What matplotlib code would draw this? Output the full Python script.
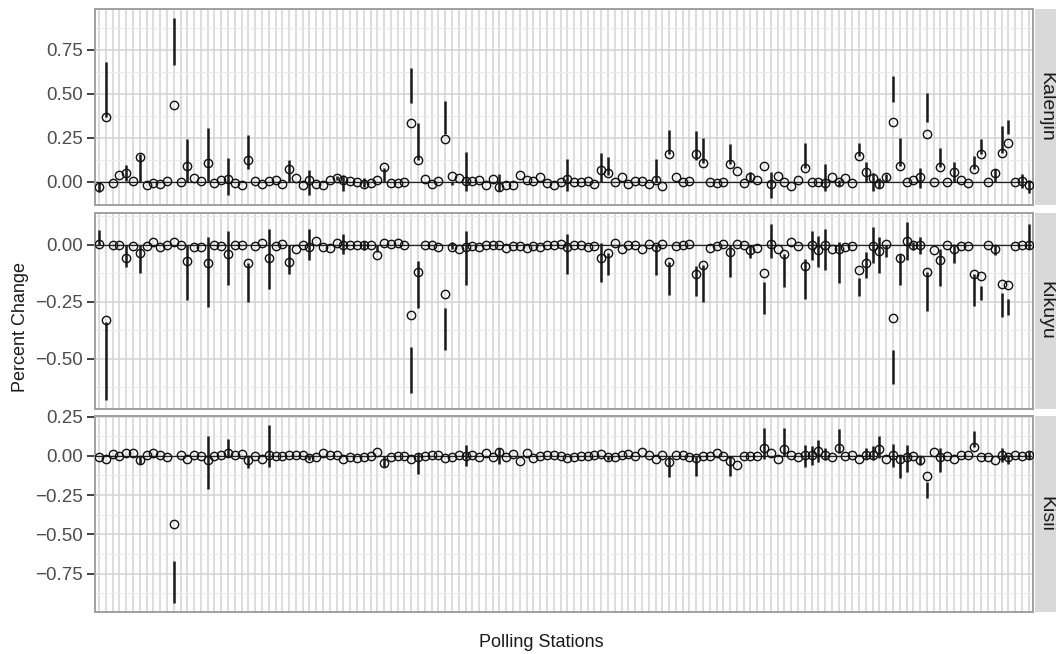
import numpy as np
import matplotlib.pyplot as plt
from matplotlib.ticker import FixedLocator, MultipleLocator, FuncFormatter

plt.rcParams['font.family'] = ['Liberation Sans', 'DejaVu Sans']

# 138 polling stations on a discrete x axis
stations = [f"PS{i + 1:03d}" for i in range(138)]

# point estimates, one per station
kal_pt = [-0.03, 0.37, -0.007, 0.04, 0.052, 0.007, 0.142, -0.016, -0.007, -0.014,
          0.007, 0.437, 0.0, 0.089, 0.022, 0.007, 0.108, -0.009, 0.008, 0.018,
          -0.007, -0.016, 0.125, 0.003, -0.012, 0.003, 0.008, -0.012, 0.075, 0.022,
          -0.02, 0.012, -0.012, -0.016, 0.01, 0.022, 0.008, 0.007, -0.003, -0.012,
          -0.009, 0.012, 0.081, -0.007, -0.007, 0.0, 0.336, 0.121, 0.016, -0.012,
          0.003, 0.245, 0.031, 0.022, 0.003, 0.007, 0.012, -0.02, 0.018, -0.031,
          -0.016, -0.016, 0.041, 0.012, 0.003, 0.025, -0.007, -0.02, 0.0, 0.016,
          0.0, -0.003, 0.003, -0.012, 0.068, 0.05, -0.003, 0.025, -0.012, 0.007,
          0.007, -0.012, 0.012, -0.026, 0.159, 0.025, 0.0, 0.007, 0.155, 0.104,
          0.0, -0.007, 0.0, 0.101, 0.06, -0.007, 0.027, 0.012, 0.092, -0.012,
          0.031, -0.003, -0.022, 0.012, 0.079, -0.003, -0.003, -0.007, 0.029, -0.003,
          0.022, -0.009, 0.146, 0.054, 0.022, -0.012, 0.027, 0.342, 0.089, -0.003,
          0.012, 0.025, 0.27, -0.003, 0.083, -0.003, 0.054, 0.012, -0.009, 0.07,
          0.159, -0.003, 0.048, 0.162, 0.218, -0.003, 0.007, -0.02]
kik_pt = [0.004, -0.332, -0.003, -0.003, -0.061, -0.006, -0.037, -0.006, 0.012, -0.01,
          0.0, 0.012, -0.003, -0.072, -0.01, -0.01, -0.083, -0.003, -0.006, -0.04,
          -0.003, -0.003, -0.08, -0.006, 0.007, -0.061, -0.006, 0.004, -0.076, -0.018,
          0.0, -0.01, 0.015, -0.01, -0.015, 0.007, 0.0, 0.0, 0.0, 0.0,
          -0.003, -0.047, 0.007, 0.004, 0.007, 0.0, -0.31, -0.12, -0.003, 0.0,
          -0.01, -0.215, -0.01, -0.018, -0.01, -0.007, -0.01, -0.003, 0.0, 0.0,
          -0.013, -0.007, -0.006, -0.013, -0.006, -0.01, -0.003, 0.0, 0.003, -0.012,
          -0.003, -0.003, -0.01, -0.006, -0.061, -0.037, 0.007, -0.018, 0.0, -0.003,
          -0.018, 0.003, -0.01, 0.003, -0.076, -0.006, 0.0, 0.003, -0.13, -0.088,
          -0.015, -0.006, 0.002, -0.032, 0.004, 0.0, -0.025, -0.015, -0.124, 0.004,
          -0.018, -0.04, 0.009, -0.006, -0.094, -0.003, -0.022, 0.0, -0.018, -0.02,
          -0.01, -0.006, -0.113, -0.079, -0.007, -0.028, 0.004, -0.322, -0.061, 0.015,
          0.0, -0.003, -0.12, -0.022, -0.069, 0.0, -0.018, -0.006, -0.006, -0.129,
          -0.137, -0.003, -0.018, -0.171, -0.178, -0.006, 0.0, 0.0]
kis_pt = [-0.006, -0.017, 0.011, 0.0, 0.019, 0.019, -0.028, 0.004, 0.015, 0.008,
          -0.006, -0.436, 0.004, -0.021, 0.004, 0.0, -0.028, 0.0, 0.004, 0.019,
          0.004, 0.011, -0.028, 0.0, -0.017, 0.004, 0.0, 0.0, 0.004, 0.004,
          0.004, -0.013, -0.006, 0.019, 0.004, 0.004, -0.017, -0.006, -0.011, -0.006,
          0.0, 0.025, -0.044, -0.006, 0.0, 0.0, -0.017, -0.006, 0.0, 0.004,
          0.004, -0.011, -0.006, 0.004, 0.0, 0.004, -0.006, 0.015, -0.006, 0.025,
          -0.006, 0.011, -0.034, 0.015, -0.011, 0.0, 0.004, 0.008, 0.0, -0.011,
          -0.006, 0.0, 0.0, 0.004, 0.011, -0.006, -0.006, 0.004, 0.011, 0.0,
          0.025, 0.008, -0.017, 0.004, -0.042, 0.004, 0.004, -0.006, -0.011, 0.0,
          0.0, 0.019, 0.002, -0.036, -0.059, 0.0, 0.0, 0.0, 0.051, 0.021,
          -0.017, 0.042, 0.008, -0.006, 0.008, 0.004, 0.032, 0.008, -0.006, 0.047,
          0.0, 0.004, -0.017, 0.008, 0.008, 0.042, -0.017, 0.004, -0.021, -0.006,
          0.0, -0.028, -0.127, 0.025, -0.006, 0.0, -0.021, 0.004, 0.008, 0.057,
          -0.006, -0.006, -0.028, 0.008, -0.006, 0.004, 0.0, 0.008]

# intervals: station index, lower and upper end
kal_ci_idx = [0, 1, 4, 6, 11, 13, 16, 19, 22, 28, 31, 35, 36, 39, 42, 46, 47, 51, 52, 54,
              59, 69, 74, 75, 82, 84, 88, 89, 93, 96, 99, 104, 107, 109, 112, 113, 114,
              115, 116, 117, 118, 121, 122, 124, 126, 129, 130, 132, 133, 134, 136, 137]
kal_ci_lo = [-0.06, 0.37, 0.003, 0.0, 0.664, 0.0, 0.0, -0.073, 0.075, 0.0, -0.073, 0.01,
             -0.05, -0.028, 0.0, 0.445, 0.121, 0.274, -0.017, -0.054, -0.054, -0.054, 0.0,
             0.04, 0.0, 0.159, 0.121, 0.104, 0.101, 0.002, -0.092, 0.079, -0.054, -0.026,
             0.146, 0.0, -0.05, -0.036, 0.0, 0.451, 0.089, -0.036, 0.342, 0.083, 0.0,
             0.07, 0.159, 0.0, 0.162, 0.27, -0.036, -0.065]
kal_ci_hi = [0.0, 0.68, 0.094, 0.155, 0.929, 0.241, 0.305, 0.136, 0.266, 0.123, 0.066, 0.035,
             0.037, 0.02, 0.08, 0.645, 0.336, 0.46, 0.0, 0.171, 0.045, 0.127, 0.161,
             0.14, 0.127, 0.293, 0.289, 0.247, 0.212, 0.056, 0.056, 0.222, 0.101, 0.012,
             0.222, 0.113, 0.05, 0.022, 0.044, 0.6, 0.247, 0.079, 0.504, 0.193, 0.113,
             0.149, 0.241, 0.07, 0.314, 0.35, 0.044, 0.012]

kik_ci_idx = [0, 1, 4, 6, 13, 16, 19, 22, 25, 28, 31, 36, 39, 41, 46, 47, 51, 52, 54, 69,
              74, 75, 82, 84, 88, 89, 93, 96, 98, 99, 101, 104, 105, 106, 107, 109, 112,
              113, 114, 115, 116, 117, 118, 119, 120, 121, 122, 124, 126, 129, 130, 132,
              133, 134, 137]
kik_ci_lo = [-0.003, -0.68, -0.098, -0.124, -0.244, -0.273, -0.175, -0.251, -0.193, -0.127,
             -0.069, -0.04, -0.025, -0.032, -0.651, -0.28, -0.463, -0.018, -0.175, -0.13,
             -0.164, -0.135, -0.132, -0.22, -0.225, -0.251, -0.142, -0.061, -0.303, -0.058,
             -0.186, -0.237, -0.069, -0.098, -0.11, -0.168, -0.225, -0.146, -0.083, -0.124,
             -0.054, -0.61, -0.175, -0.069, -0.025, -0.04, -0.292, -0.183, -0.079, -0.269,
             -0.241, -0.044, -0.317, -0.31, -0.018]
kik_ci_hi = [0.063, -0.34, 0.0, 0.0, 0.0, 0.034, 0.058, -0.08, 0.067, 0.0,
             0.07, 0.048, 0.015, 0.0, -0.449, -0.07, -0.278, 0.012, 0.06, 0.048,
             0.007, -0.037, 0.0, -0.076, -0.095, -0.088, 0.0, 0.0, -0.164, 0.089,
             -0.04, -0.064, 0.06, 0.038, 0.067, 0.009, -0.146, -0.032, 0.077, 0.031,
             0.0, -0.463, -0.04, 0.1, 0.012, 0.031, -0.12, -0.018, 0.0, -0.129,
             -0.181, 0.0, -0.211, -0.24, 0.089]

kis_ci_idx = [6, 11, 16, 19, 22, 25, 31, 42, 47, 54, 59, 75, 84, 88, 93, 98, 101, 104, 105,
              106, 107, 109, 113, 114, 115, 117, 118, 119, 121, 122, 124, 129, 133, 134, 137]
kis_ci_lo = [-0.055, -0.939, -0.212, -0.006, -0.08, -0.07, -0.028, -0.07, -0.117, -0.064,
             -0.049, -0.028, -0.133, -0.127, -0.127, -0.017, 0.0, -0.07, -0.059, -0.038,
             -0.028, 0.015, -0.017, -0.028, -0.013, -0.07, -0.144, -0.102, -0.059, -0.267,
             -0.102, 0.057, -0.038, -0.055, -0.017]
kis_ci_hi = [0.0, -0.667, 0.127, 0.11, 0.0, 0.195, 0.004, 0.0, 0.015, 0.068,
             0.051, 0.0, 0.0, 0.0, 0.0, 0.18, 0.18, 0.072, 0.064, 0.1,
             0.047, 0.17, 0.051, 0.064, 0.125, 0.078, 0.004, 0.068, 0.0, -0.169,
             0.051, 0.157, 0.047, 0.004, 0.034]

groups = ["Kalenjin", "Kikuyu", "Kisii"]
panel_ticks = [[0.0, 0.25, 0.5, 0.75], [-0.5, -0.25, 0.0], [-0.75, -0.5, -0.25, 0.0, 0.25]]
panel_ylim = [(-0.134, 0.981), (-0.719, 0.140), (-0.996, 0.254)]

panels = [
    (kal_pt, kal_ci_idx, kal_ci_lo, kal_ci_hi),
    (kik_pt, kik_ci_idx, kik_ci_lo, kik_ci_hi),
    (kis_pt, kis_ci_idx, kis_ci_lo, kis_ci_hi),
]


def fmt(v, pos):
    return f"{v:.2f}".replace("-", "\u2212")


fig, axes = plt.subplots(3, 1, figsize=(10.56, 6.54), dpi=100, sharex=True)
fig.subplots_adjust(left=0.09, right=0.978, top=0.986, bottom=0.064, hspace=0.037)

x = np.arange(len(stations))

for ax, name, (pt, ci_idx, ci_lo, ci_hi), ticks, ylim in zip(axes, groups, panels, panel_ticks, panel_ylim):
    ax.set_facecolor("white")
    ax.set_axisbelow(True)
    ax.set_xticks(x)
    ax.set_xticklabels([])
    ax.tick_params(axis="x", length=0)
    ax.yaxis.set_major_locator(FixedLocator(ticks))
    ax.yaxis.set_minor_locator(MultipleLocator(0.125))
    ax.yaxis.set_major_formatter(FuncFormatter(fmt))
    ax.tick_params(axis="y", which="major", length=5.5, width=1.3, color="#333333",
                   labelsize=13.5, labelcolor="#4D4D4D", pad=3.5)
    ax.tick_params(axis="y", which="minor", length=0)
    ax.grid(True, axis="x", color="#D3D3D3", lw=1.1)
    ax.grid(True, axis="y", which="major", color="#D3D3D3", lw=1.1)
    ax.grid(True, axis="y", which="minor", color="#EBEBEB", lw=0.7)
    for s in ax.spines.values():
        s.set_color("#A0A0A0")
        s.set_linewidth(1.4)

    ax.axhline(0, color="#222222", lw=0.9, zorder=2)
    ax.vlines(ci_idx, ci_lo, ci_hi, color="#1A1A1A", lw=1.8, zorder=3)
    ax.plot(x, pt, linestyle="none", marker="o", ms=6.0, mfc="none",
            mec="#111111", mew=1.0, zorder=4)

    ax.set_xlim(-0.6, len(stations) - 0.4)
    ax.set_ylim(*ylim)

    # facet strip on the right
    pos = ax.get_position()
    sax = fig.add_axes([pos.x1 + 0.002, pos.y0, 1.0 - pos.x1 - 0.002, pos.height])
    sax.set_facecolor("#D9D9D9")
    sax.set_xticks([])
    sax.set_yticks([])
    for s in sax.spines.values():
        s.set_visible(False)
    sax.text(0.5, 0.5, name, rotation=-90, ha="center", va="center",
             fontsize=14, color="#1A1A1A", transform=sax.transAxes)

fig.text(0.019, 0.5, "Percent Change", rotation=90, ha="center", va="center",
         fontsize=13, color="#1A1A1A")
fig.text(0.513, 0.017, "Polling Stations", ha="center", va="center",
         fontsize=13, color="#1A1A1A")

fig.savefig("out.png", dpi=100)
